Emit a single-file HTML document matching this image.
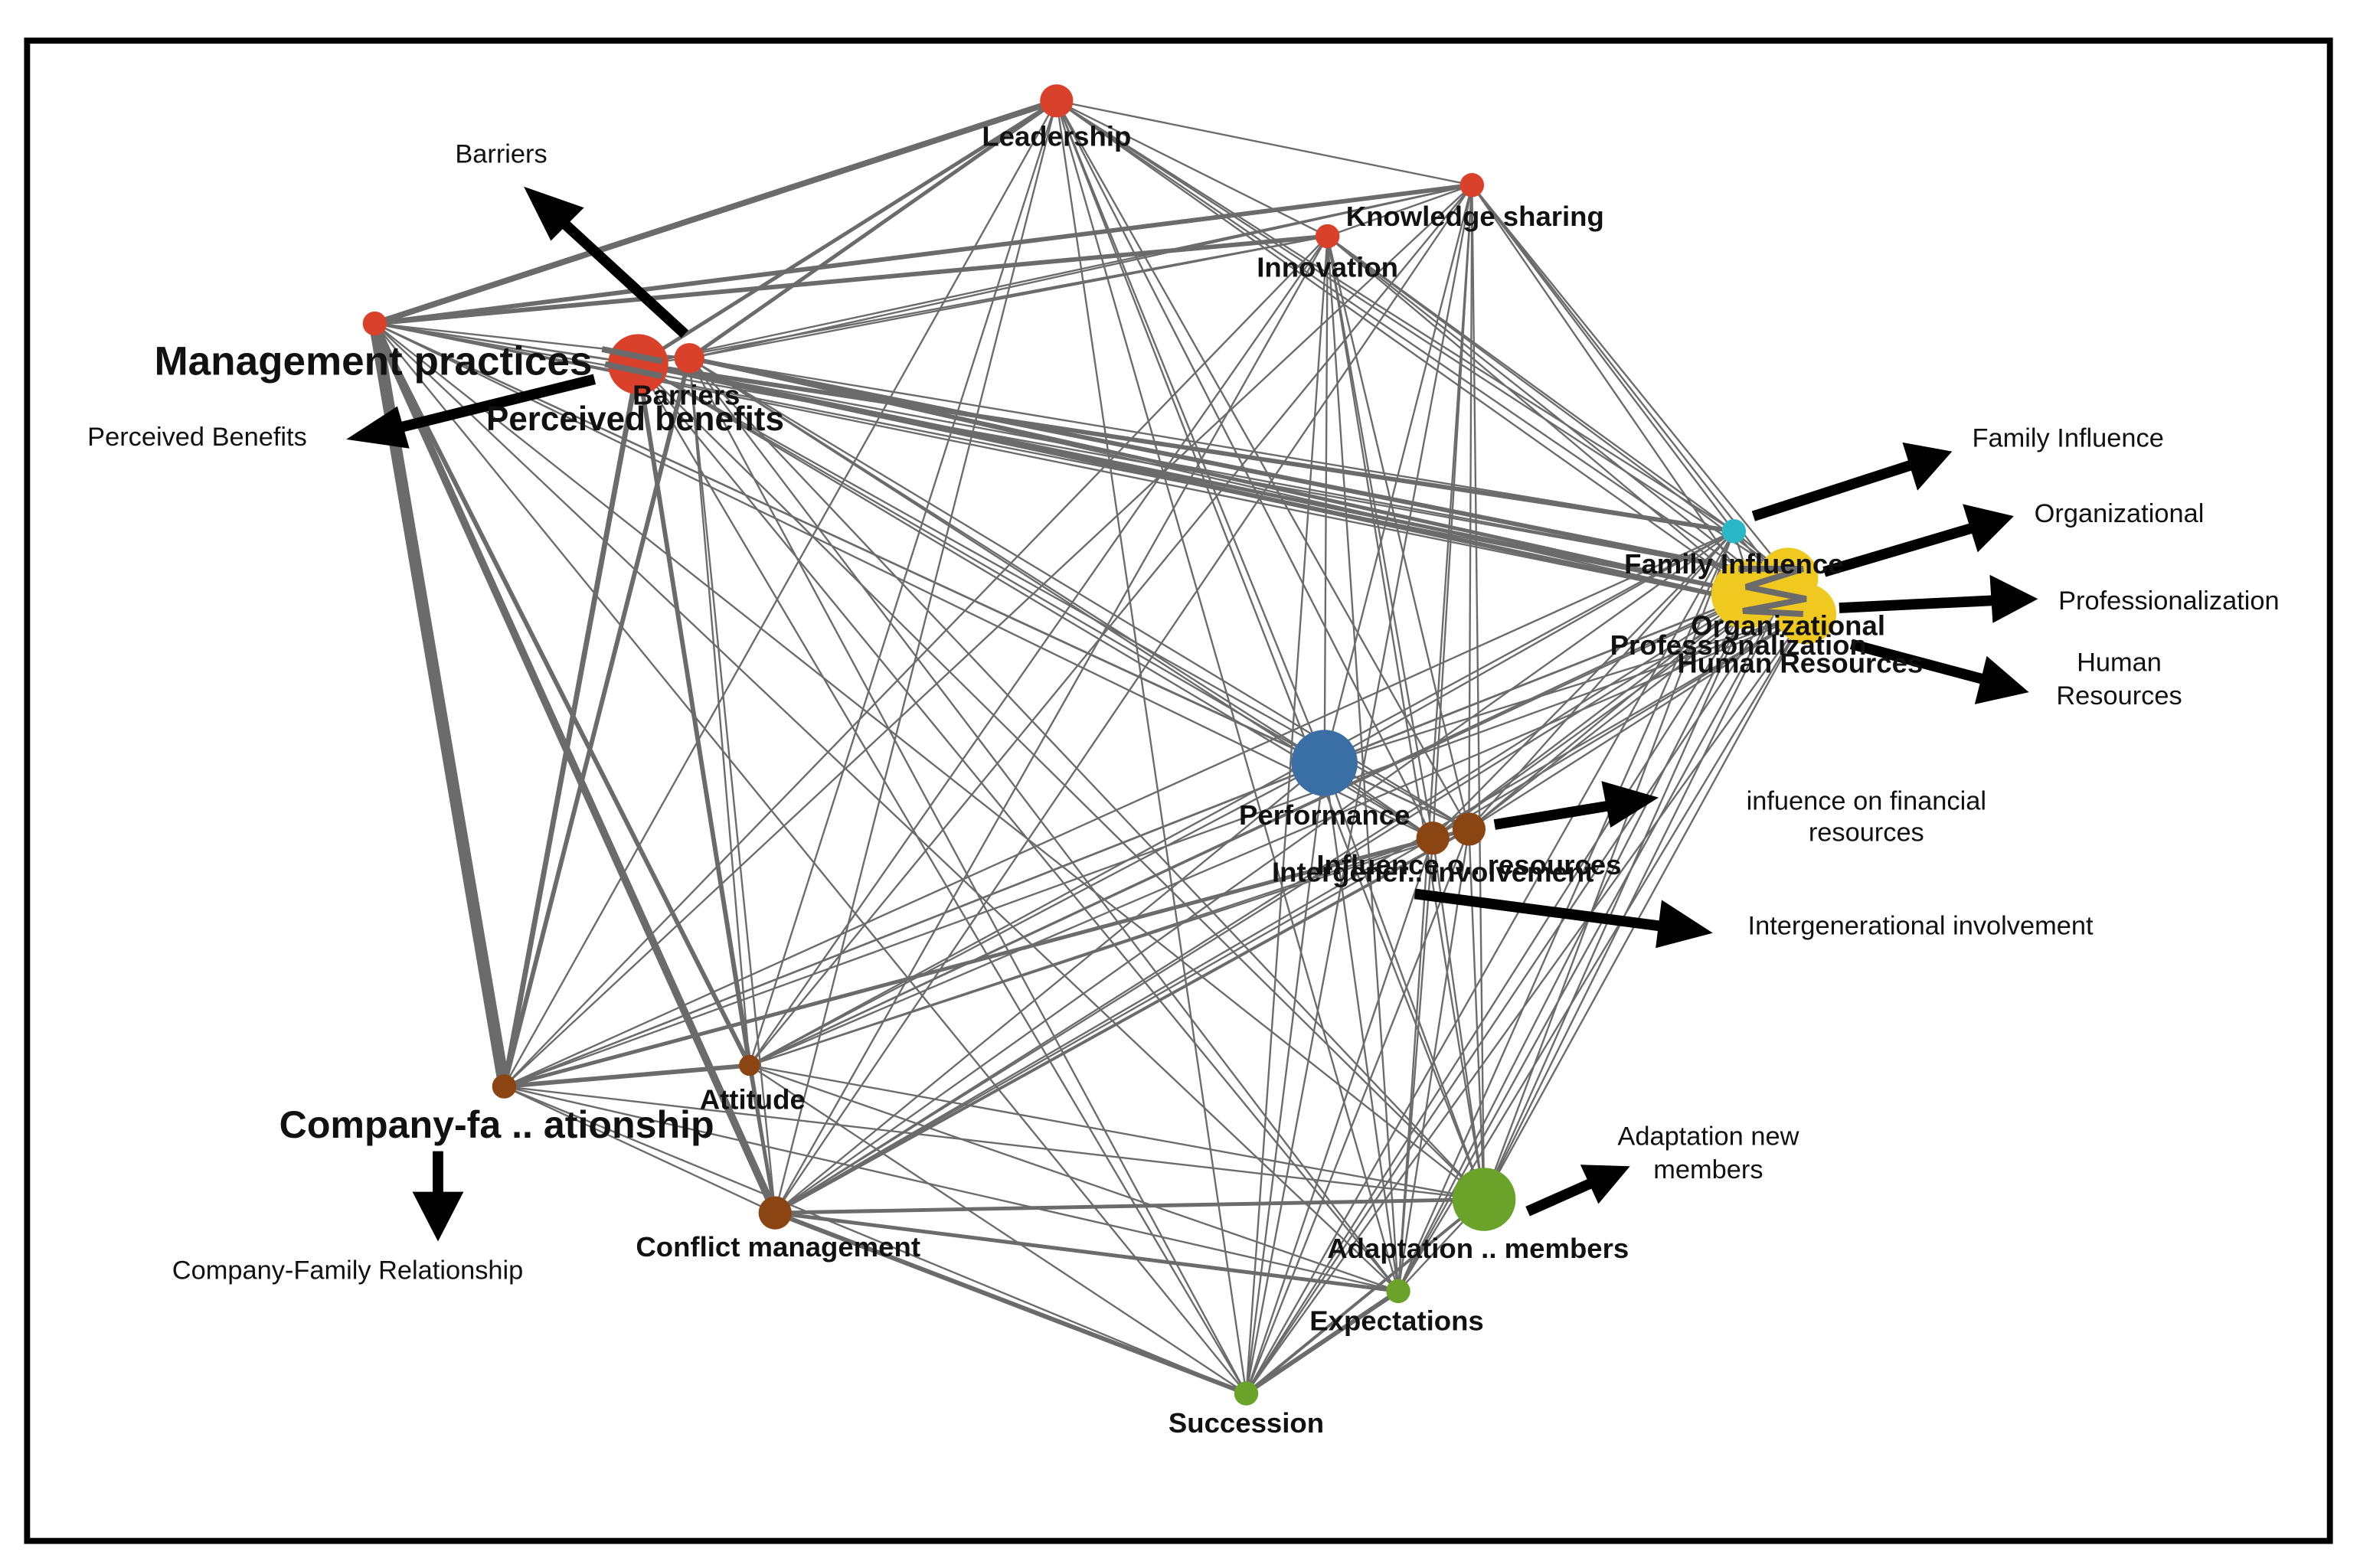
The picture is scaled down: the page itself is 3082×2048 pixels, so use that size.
<!DOCTYPE html>
<html><head><meta charset="utf-8">
<style>
html,body{margin:0;padding:0;background:#fff;}
svg{display:block;}
text{font-family:"Liberation Sans",sans-serif;}
.n{font-size:18.6px;font-weight:bold;fill:#111;text-anchor:middle;}
.big{font-size:27px;font-weight:bold;fill:#111;text-anchor:middle;}
.a{font-size:17.5px;fill:#111;text-anchor:middle;}
</style></head>
<body>
<svg width="3082" height="2048" viewBox="0 0 1568 1042" preserveAspectRatio="none" xmlns="http://www.w3.org/2000/svg">
<rect x="0" y="0" width="1568" height="1042" fill="#fff"/>
<rect x="18" y="27" width="1530" height="997" fill="none" stroke="#000" stroke-width="4"/>
<g id="edges" stroke="#6b6b6b" stroke-linecap="butt"></g>
<g id="nodes">
<circle cx="702" cy="67" r="11" fill="#d9412a"/>
<circle cx="978" cy="123" r="8" fill="#d9412a"/>
<circle cx="882" cy="157" r="8" fill="#d9412a"/>
<circle cx="249" cy="215" r="8" fill="#d9412a"/>
<circle cx="424" cy="242" r="20" fill="#d9412a"/>
<circle cx="458" cy="238" r="10" fill="#d9412a"/>
<circle cx="1152" cy="353" r="8" fill="#2ab7c7"/>
<circle cx="1160" cy="395" r="23" fill="#efc820"/>
<circle cx="1188" cy="384" r="20" fill="#efc820"/>
<circle cx="1200" cy="408" r="20" fill="#efc820"/>
<circle cx="880" cy="507" r="22" fill="#3a6fa6"/>
<circle cx="952" cy="557" r="11" fill="#8b4513"/>
<circle cx="976" cy="551" r="11" fill="#8b4513"/>
<circle cx="335" cy="722" r="8" fill="#8b4513"/>
<circle cx="498" cy="708" r="7" fill="#8b4513"/>
<circle cx="515" cy="806" r="11" fill="#8b4513"/>
<circle cx="986" cy="797" r="21" fill="#6aa22a"/>
<circle cx="929" cy="858" r="8" fill="#6aa22a"/>
<circle cx="828" cy="926" r="8" fill="#6aa22a"/>
</g>
<g id="inner" stroke="#6b6b6b" stroke-width="4" fill="none">
<path d="M1155 378 L1198 378 L1160 390 L1200 398 L1158 406 L1198 408"/>
<path d="M400 232 L440 240 M402 242 L440 250"/>
</g>
<g fill="#000" stroke="#000">
<g stroke-width="7">
<line x1="455" y1="222" x2="370" y2="144"/>
<line x1="395" y1="252" x2="258" y2="286"/>
<line x1="1165" y1="343" x2="1270" y2="309"/>
<line x1="1212" y1="380" x2="1310" y2="351"/>
<line x1="1222" y1="404" x2="1325" y2="399"/>
<line x1="1230" y1="428" x2="1320" y2="452"/>
<line x1="993" y1="548" x2="1072" y2="535"/>
<line x1="940" y1="594" x2="1108" y2="616"/>
<line x1="1015" y1="805" x2="1060" y2="785"/>
<line x1="291" y1="765" x2="291" y2="800"/>
</g>
<g stroke="none">
<polygon points="348,124 388,138 366,160"/>
<polygon points="230,292 264,270 272,298"/>
<polygon points="1297,300 1264,294 1274,326"/>
<polygon points="1338,343 1304,335 1314,367"/>
<polygon points="1354,398 1322,382 1324,414"/>
<polygon points="1348,460 1320,436 1312,468"/>
<polygon points="1102,530 1064,519 1070,550"/>
<polygon points="1138,620 1104,598 1100,630"/>
<polygon points="1083,775 1050,774 1062,800"/>
<polygon points="291,825 274,792 308,792"/>
</g>
</g>
<g>
<text class="n" x="702" y="97">Leadership</text>
<text class="n" x="980" y="150">Knowledge sharing</text>
<text class="n" x="882" y="184">Innovation</text>
<text class="big" x="248" y="249">Management practices</text>
<text class="n" x="456" y="269">Barriers</text>
<text class="big" x="422" y="286" style="font-size:22.4px">Perceived benefits</text>
<text class="n" x="1152" y="381">Family Influence</text>
<text class="n" x="1188" y="422">Organizational</text>
<text class="n" x="1155" y="435">Professionalization</text>
<text class="n" x="1196" y="447">Human Resources</text>
<text class="n" x="880" y="548">Performance</text>
<text class="n" x="976" y="581">Influence o.. resources</text>
<text class="n" x="952" y="586">Intergener.. involvement</text>
<text class="big" x="330" y="756" style="font-size:25.5px">Company-fa .. ationship</text>
<text class="n" x="500" y="737">Attitude</text>
<text class="n" x="517" y="835">Conflict management</text>
<text class="n" x="982" y="836">Adaptation .. members</text>
<text class="n" x="928" y="884">Expectations</text>
<text class="n" x="828" y="952">Succession</text>

<text class="a" x="333" y="108">Barriers</text>
<text class="a" x="131" y="296">Perceived Benefits</text>
<text class="a" x="1374" y="297">Family Influence</text>
<text class="a" x="1408" y="347">Organizational</text>
<text class="a" x="1441" y="405">Professionalization</text>
<text class="a" x="1408" y="446">Human</text>
<text class="a" x="1408" y="468">Resources</text>
<text class="a" x="1240" y="538">infuence on financial</text>
<text class="a" x="1240" y="559">resources</text>
<text class="a" x="1276" y="621">Intergenerational involvement</text>
<text class="a" x="1135" y="761">Adaptation new</text>
<text class="a" x="1135" y="783">members</text>
<text class="a" x="231" y="850">Company-Family Relationship</text>
</g>
</svg>
<script>
var N={L:[702,67],K:[978,123],I:[882,157],M:[249,215],B:[458,238],P:[424,242],F:[1152,353],O:[1190,385],R:[1200,408],H:[1165,395],Pe:[880,507],IF:[976,551],IG:[952,557],C:[335,722],A:[498,708],CM:[515,806],AD:[986,797],E:[929,858],S:[828,926]};
var W={"M-C":8,"M-CM":5,"M-A":3,"M-L":4,"M-K":3,"M-I":3,"P-C":3.5,"B-C":3,"P-A":3,"C-A":3,"CM-S":3,"C-IF":2.5,"P-F":3,"B-O":3,"P-R":3,"E-S":3,"AD-S":2,"CM-AD":2.5,"CM-E":2.5,"B-L":2.5,"P-L":2.5,"A-CM":2.5,"C-IG":2,"CM-IF":2,"P-H":2.5,"B-H":2.5};
var g=document.getElementById('edges'),k=Object.keys(N),s='';
for(var i=0;i<k.length;i++)for(var j=i+1;j<k.length;j++){
 var a=N[k[i]],b=N[k[j]];
 var w=W[k[i]+'-'+k[j]]||W[k[j]+'-'+k[i]]||1.2;
 s+='<line x1="'+a[0]+'" y1="'+a[1]+'" x2="'+b[0]+'" y2="'+b[1]+'" stroke-width="'+w+'"/>';
}
g.innerHTML=s;
</script>
</body></html>
